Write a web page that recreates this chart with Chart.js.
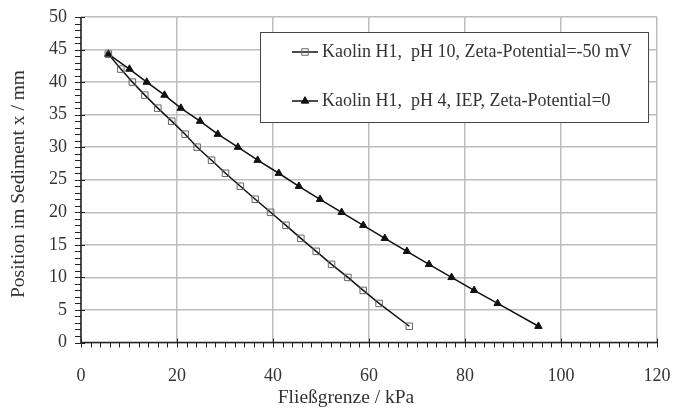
<!DOCTYPE html>
<html>
<head>
<meta charset="utf-8">
<script src="https://cdn.jsdelivr.net/npm/chart.js@4/dist/chart.umd.min.js"></script>
<style>
  html, body { margin: 0; padding: 0; background: #fff; }
  #wrap { width: 685px; height: 410px; }
</style>
</head>
<body>
<div id="wrap"><canvas id="chart" width="685" height="410"></canvas></div>
<script>
// Position im Sediment (mm) for each measured point
const positions = [44.3, 42, 40, 38, 36, 34, 32, 30, 28, 26, 24, 22, 20, 18, 16, 14, 12, 10, 8, 6, 2.5];
// Fliessgrenze (kPa), pH 10
const yieldPH10 = [5.7, 8.3, 10.7, 13.3, 16.0, 18.9, 21.7, 24.2, 27.2, 30.1, 33.2, 36.3, 39.5, 42.7, 45.8, 49.0, 52.2, 55.6, 58.8, 62.1, 68.4];
// Fliessgrenze (kPa), pH 4 (IEP)
const yieldPH4 = [5.7, 10.1, 13.7, 17.4, 20.8, 24.8, 28.5, 32.7, 36.8, 41.2, 45.4, 49.8, 54.3, 58.8, 63.3, 67.9, 72.5, 77.2, 81.9, 86.8, 95.3];
const seriesLabels = [
  "Kaolin H1,  pH 10, Zeta-Potential=-50 mV",
  "Kaolin H1,  pH 4, IEP, Zeta-Potential=0"
];
const xTicks = [0, 20, 40, 60, 80, 100, 120];
const yTicks = [0, 5, 10, 15, 20, 25, 30, 35, 40, 45, 50];

const FONT = "'Liberation Serif', 'DejaVu Serif', serif";

function toPoints(xs) {
  return xs.map(function(x, i) { return { x: x, y: positions[i] }; });
}

// axis ticks, titles and the boxed legend
const decorPlugin = {
  id: "decor",
  afterDraw: function(chart) {
    const ctx = chart.ctx;
    const xs = chart.scales.x;
    const ys = chart.scales.y;
    const area = chart.chartArea;
    ctx.save();

    // axis lines
    ctx.strokeStyle = "#222";
    ctx.lineWidth = 1.5;
    ctx.beginPath();
    ctx.moveTo(area.left, area.top);
    ctx.lineTo(area.left, area.bottom);
    ctx.lineTo(area.right, area.bottom);
    ctx.stroke();

    // tick marks
    ctx.lineWidth = 1;
    ctx.beginPath();
    for (let v = 0; v <= 120; v += 2) {
      const px = Math.round(xs.getPixelForValue(v)) + 0.5;
      const major = v % 20 === 0;
      ctx.moveTo(px, area.bottom + 5);
      ctx.lineTo(px, area.bottom - (major ? 4 : 0));
    }
    for (let v = 0; v <= 50; v += 1) {
      const py = Math.round(ys.getPixelForValue(v)) + 0.5;
      const major = v % 5 === 0;
      ctx.moveTo(area.left - 6, py);
      ctx.lineTo(area.left + (major ? 4 : 0), py);
    }
    ctx.stroke();

    // axis titles
    ctx.fillStyle = "#333";
    ctx.font = "19.5px " + FONT;
    ctx.textAlign = "center";
    ctx.textBaseline = "middle";
    ctx.fillText("Fließgrenze / kPa", 346, 398);
    ctx.translate(19, 184);
    ctx.rotate(-Math.PI / 2);
    ctx.fillText("Position im Sediment x / mm", 0, 0);
    ctx.setTransform(1, 0, 0, 1, 0, 0);

    // legend box
    const lx = 260.5, ly = 32.5, lw = 388, lh = 90;
    ctx.fillStyle = "#fff";
    ctx.fillRect(lx, ly, lw, lh);
    ctx.strokeStyle = "#444";
    ctx.lineWidth = 1;
    ctx.strokeRect(lx, ly, lw, lh);

    const rows = [52, 101];
    chart.data.datasets.forEach(function(ds, i) {
      const y = rows[i];
      ctx.strokeStyle = "#111";
      ctx.lineWidth = 1.5;
      ctx.beginPath();
      ctx.moveTo(292, y);
      ctx.lineTo(318, y);
      ctx.stroke();
      ctx.strokeStyle = ds.pointBorderColor;
      ctx.fillStyle = ds.pointBackgroundColor;
      ctx.lineWidth = ds.pointBorderWidth;
      Chart.helpers.drawPoint(ctx, { pointStyle: ds.pointStyle, radius: ds.pointRadius, rotation: 0, borderWidth: ds.pointBorderWidth }, 305, y);
      ctx.fillStyle = "#333";
      ctx.font = "18px " + FONT;
      ctx.textAlign = "left";
      ctx.textBaseline = "middle";
      ctx.fillText(ds.label, 322, y);
    });
    ctx.restore();
  }
};

new Chart(document.getElementById("chart"), {
  type: "scatter",
  data: {
    datasets: [
      {
        label: seriesLabels[0],
        data: toPoints(yieldPH10),
        showLine: true,
        borderColor: "#111",
        borderWidth: 1.5,
        pointStyle: "rect",
        pointRadius: 4.6,
        pointBorderColor: "#666",
        pointBackgroundColor: "rgba(255,255,255,0)",
        pointBorderWidth: 1
      },
      {
        label: seriesLabels[1],
        data: toPoints(yieldPH4),
        showLine: true,
        borderColor: "#111",
        borderWidth: 1.5,
        pointStyle: "triangle",
        pointRadius: 4.3,
        pointBorderColor: "#111",
        pointBackgroundColor: "#111",
        pointBorderWidth: 1
      }
    ]
  },
  options: {
    responsive: false,
    animation: false,
    layout: { padding: { top: 17, right: 28, left: 0, bottom: 0 } },
    plugins: {
      legend: { display: false },
      tooltip: { enabled: false }
    },
    scales: {
      x: {
        type: "linear",
        min: 0,
        max: 120,
        afterBuildTicks: function(scale) {
          scale.ticks = xTicks.map(function(v) { return { value: v }; });
        },
        afterFit: function(scale) {
          scale.height = 67.5;
          scale.paddingLeft = 0;
          scale.paddingRight = 0;
        },
        border: { display: false },
        grid: { color: "#bdbdbd", lineWidth: 1.5, drawTicks: false },
        ticks: {
          padding: 23,
          color: "#333",
          font: { family: FONT, size: 18 },
          maxRotation: 0
        }
      },
      y: {
        type: "linear",
        min: 0,
        max: 50,
        afterBuildTicks: function(scale) {
          scale.ticks = yTicks.map(function(v) { return { value: v }; });
        },
        afterFit: function(scale) {
          scale.width = 81;
          scale.paddingTop = 0;
          scale.paddingBottom = 0;
        },
        border: { display: false },
        grid: { color: "#bdbdbd", lineWidth: 1.5, drawTicks: false },
        ticks: {
          padding: 14,
          color: "#333",
          font: { family: FONT, size: 18 }
        }
      }
    }
  },
  plugins: [decorPlugin]
});
</script>
</body>
</html>
